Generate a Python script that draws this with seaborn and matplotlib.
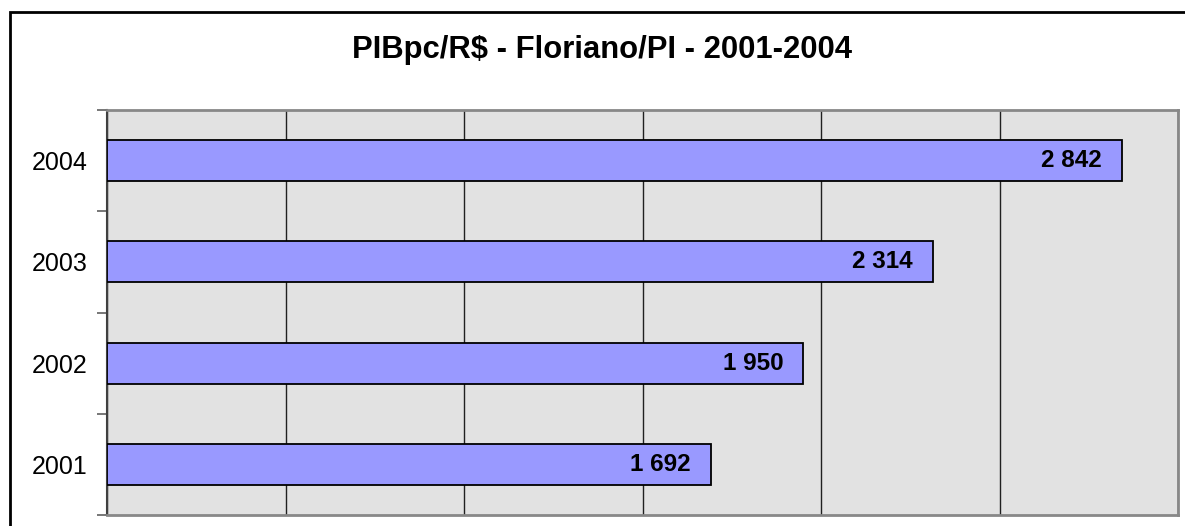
#%% importing modules
import pandas as pd
import matplotlib.pyplot as plt
import seaborn as sns

#%% data
anos    = ['2004', '2003', '2002', '2001']
pib_pc  = [2842, 2314, 1950, 1692]
titulo  = 'PIBpc/R$ - Floriano/PI - 2001-2004'
xgrid   = [0, 500, 1000, 1500, 2000, 2500, 3000]

df = pd.DataFrame({'ano': anos, 'pib': pib_pc})

#%% style
sns.set_style('white')
plt.rcParams['font.family'] = ['Liberation Sans', 'DejaVu Sans']
plt.rcParams['text.color'] = 'black'
plt.rcParams['ytick.color'] = 'black'
plt.rcParams['ytick.labelcolor'] = 'black'

W, H = 1185, 526
fig = plt.figure(figsize=(W / 100, H / 100), dpi=100)
ax = fig.add_axes([107 / W, 1 - 515 / H, (1178 - 107) / W, (515 - 110) / H])

sns.barplot(data=df, x='pib', y='ano', order=anos, orient='h',
            color='#9999ff', saturation=1, width=0.405,
            edgecolor='black', linewidth=1.3, ax=ax, zorder=3)

ax.set_facecolor('#e2e2e2')
ax.set_xlim(0, 3000)
ax.set_ylim(3.5, -0.5)
ax.set_xticks(xgrid)
ax.set_xticklabels([])
ax.tick_params(axis='x', length=0)
ax.grid(axis='x', color='#202020', linewidth=1.0, zorder=0)
ax.set_axisbelow(True)
ax.set_xlabel('')
ax.set_ylabel('')

# y labels in the middle, tick marks on the category borders
ax.tick_params(axis='y', which='major', left=True, length=0, pad=14,
               labelsize=18, labelcolor='black')
ax.set_yticks([-0.5, 0.5, 1.5, 2.5, 3.5], minor=True)
ax.tick_params(axis='y', which='minor', left=True, length=7, width=1.2,
               color='#606060')

for s in ['top', 'right', 'bottom']:
    ax.spines[s].set_color('#888888')
    ax.spines[s].set_linewidth(2)
ax.spines['left'].set_color('#404040')
ax.spines['left'].set_linewidth(1.5)

# value labels inside the bars
for i, v in enumerate(pib_pc):
    ax.annotate(f'{v:,}'.replace(',', ' '), xy=(v, i), xytext=(-20, 0),
                textcoords='offset pixels', ha='right', va='center',
                fontsize=17.5, fontweight='bold', color='black', zorder=5)

fig.text(602 / W, 1 - 50 / H, titulo, ha='center', va='center',
         fontsize=22.3, fontweight='bold', color='black')

# outer chart border (cut at right and bottom)
fig.patches.append(plt.Rectangle((10 / W, -0.2), 1.2, 1.2 - 12 / H,
                                 transform=fig.transFigure, fill=False,
                                 edgecolor='black', linewidth=2))

plt.savefig('out.png', dpi=100)
